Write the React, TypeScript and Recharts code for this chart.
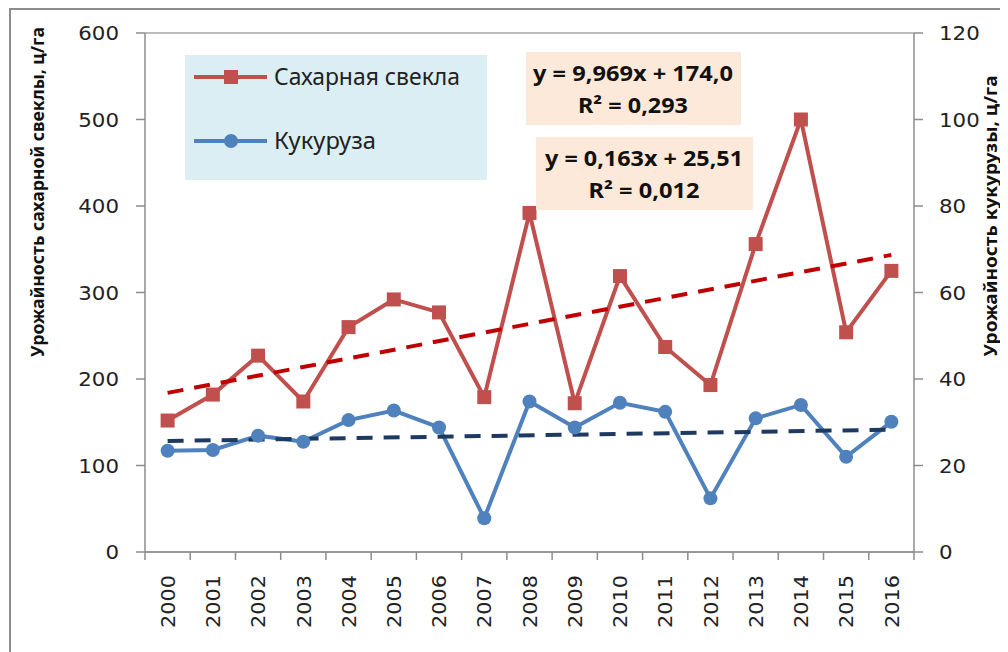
import React from 'react';
import { ComposedChart, Line, XAxis, YAxis, CartesianGrid, Legend } from 'recharts';

const years = ['2000','2001','2002','2003','2004','2005','2006','2007','2008','2009','2010','2011','2012','2013','2014','2015','2016'];
const beet = [152, 182, 227, 174, 260, 292, 277, 179, 392, 172, 319, 237, 193, 356, 500, 254, 325];
const corn = [23.4, 23.6, 26.9, 25.5, 30.5, 32.7, 28.8, 7.8, 34.8, 28.8, 34.5, 32.4, 12.4, 30.9, 34.0, 22.0, 30.1];
const beetTrendEnds = [183.97, 343.47];
const cornTrendEnds = [25.67, 28.28];
const leftTicks = [0, 100, 200, 300, 400, 500, 600];
const rightTicks = [0, 20, 40, 60, 80, 100, 120];
const beetName = 'Сахарная свекла';
const cornName = 'Кукуруза';
const leftTitle = 'Урожайность сахарной свеклы, ц/га';
const rightTitle = 'Урожайность кукурузы, ц/га';
const beetEq = ['y = 9,969x + 174,0', 'R² = 0,293'];
const cornEq = ['y = 0,163x + 25,51', 'R² = 0,012'];

const last = years.length - 1;
const data = years.map((y, i) => ({
  year: y,
  beet: beet[i],
  corn: corn[i],
  beetTrend: i === 0 ? beetTrendEnds[0] : i === last ? beetTrendEnds[1] : null,
  cornTrend: i === 0 ? cornTrendEnds[0] : i === last ? cornTrendEnds[1] : null,
}));

const RED = '#c0504d';
const BLUE = '#4f81bd';
const AXIS = '#8c8c8c';
const TICKFONT = '"DejaVu Sans", Verdana, sans-serif';
const TEXTFONT = '"Noto Sans", "Open Sans", sans-serif';

const W = 1000;
const H = 644;
const PLOT_L = 137;
const PLOT_R = 906;
const BAND = (PLOT_R - PLOT_L) / years.length;

const SquareDot = (props: any) => {
  const { cx, cy, index } = props;
  if (cx == null || cy == null) return <g key={'s' + index} />;
  return <rect key={'s' + index} x={cx - 7} y={cy - 7} width={14} height={14} fill={RED} />;
};
const CircleDot = (props: any) => {
  const { cx, cy, index } = props;
  if (cx == null || cy == null) return <g key={'c' + index} />;
  return <circle key={'c' + index} cx={cx} cy={cy} r={7} fill={BLUE} />;
};

const XTick = (props: any) => {
  const { x, y, payload, index } = props;
  const left = x - BAND / 2;
  return (
    <g>
      <line x1={left} y1={y - 8} x2={left} y2={y} stroke={AXIS} strokeWidth={1.5} />
      {index === last && <line x1={x + BAND / 2} y1={y - 8} x2={x + BAND / 2} y2={y} stroke={AXIS} strokeWidth={1.5} />}
      <text x={x} y={y + 15} transform={`rotate(-90, ${x}, ${y + 15})`} textAnchor="end" dy="0.36em"
        fontFamily={TICKFONT} fontSize={20} fill="#222" textLength={53} lengthAdjust="spacingAndGlyphs">{payload.value}</text>
    </g>
  );
};

const LegendBox = () => (
  <svg width={302} height={125} style={{ display: 'block' }}>
    <rect x={0} y={0} width={302} height={125} fill="#dbeef3" />
    <line x1={9} y1={22} x2={82} y2={22} stroke={RED} strokeWidth={4} />
    <rect x={39} y={15} width={14} height={14} fill={RED} />
    <text x={89} y={22} dy="0.36em" fontFamily={TEXTFONT} fontSize={23} fill="#222" textLength={186} lengthAdjust="spacingAndGlyphs">{beetName}</text>
    <line x1={9} y1={86} x2={82} y2={86} stroke={BLUE} strokeWidth={4} />
    <circle cx={46} cy={86} r={7} fill={BLUE} />
    <text x={89} y={86} dy="0.36em" fontFamily={TEXTFONT} fontSize={23} fill="#222" textLength={102} lengthAdjust="spacingAndGlyphs">{cornName}</text>
  </svg>
);

const YTickLeft = (props: any) => {
  const { x, y, payload } = props;
  return (
    <text x={x} y={y} textAnchor="end" dy="0.36em" fontFamily={TICKFONT} fontSize={20} fill="#222"
      textLength={String(payload.value).length * 13.6} lengthAdjust="spacingAndGlyphs">{payload.value}</text>
  );
};
const YTickRight = (props: any) => {
  const { x, y, payload } = props;
  return (
    <text x={x} y={y} textAnchor="start" dy="0.36em" fontFamily={TICKFONT} fontSize={20} fill="#222"
      textLength={String(payload.value).length * 13.6} lengthAdjust="spacingAndGlyphs">{payload.value}</text>
  );
};

export default function App() {
  return (
    <div style={{ position: 'relative', width: W, height: H, overflow: 'hidden' }}>
      <ComposedChart width={W} height={H} data={data} margin={{ top: 25, right: 0, bottom: 0, left: 0 }}>
        <CartesianGrid vertical={false} stroke="#a6a6a6" strokeWidth={1.5} />
        <XAxis dataKey="year" height={100} axisLine={{ stroke: AXIS, strokeWidth: 1.5 }} tickLine={false}
          tick={<XTick />} interval={0} padding={{ left: BAND / 2, right: BAND / 2 }} />
        <YAxis yAxisId="left" width={137} domain={[0, 600]} ticks={leftTicks} tickSize={9} tickMargin={17}
          axisLine={{ stroke: AXIS, strokeWidth: 1.5 }} tickLine={{ stroke: AXIS, strokeWidth: 1.5 }}
          tick={<YTickLeft />} />
        <YAxis yAxisId="right" orientation="right" width={94} domain={[0, 120]} ticks={rightTicks} tickSize={9} tickMargin={16}
          axisLine={{ stroke: AXIS, strokeWidth: 1.5 }} tickLine={{ stroke: AXIS, strokeWidth: 1.5 }}
          tick={<YTickRight />} />
        <Legend layout="horizontal" verticalAlign="middle" align="center" content={<LegendBox />}
          wrapperStyle={{ position: 'absolute', left: 177, top: 47, width: 302, height: 125 }} />
        <Line yAxisId="left" dataKey="beet" name={beetName} stroke={RED} strokeWidth={4} dot={<SquareDot />} activeDot={false} isAnimationActive={false} />
        <Line yAxisId="right" dataKey="corn" name={cornName} stroke={BLUE} strokeWidth={4} dot={<CircleDot />} activeDot={false} isAnimationActive={false} />
        <Line yAxisId="left" dataKey="beetTrend" stroke="#c00000" strokeWidth={4} strokeDasharray="16 11" dot={false} activeDot={false} connectNulls legendType="none" isAnimationActive={false} />
        <Line yAxisId="right" dataKey="cornTrend" stroke="#1f3a60" strokeWidth={4} strokeDasharray="16 11" dot={false} activeDot={false} connectNulls legendType="none" isAnimationActive={false} />
      </ComposedChart>
      <svg width={W} height={H} style={{ position: 'absolute', left: 0, top: 0, pointerEvents: 'none' }}>
        <line x1={2} y1={0} x2={2} y2={H} stroke="#8c8c8c" strokeWidth={2} />
        <line x1={2} y1={1} x2={W} y2={1} stroke="#8c8c8c" strokeWidth={2} />
        <text x={30} y={184} transform="rotate(-90, 30, 184)" textAnchor="middle" dy="0.36em" fontFamily={TEXTFONT} fontWeight="bold" fontSize={17} fill="#111" textLength={330} lengthAdjust="spacingAndGlyphs">{leftTitle}</text>
        <text x={983} y={208} transform="rotate(-90, 983, 208)" textAnchor="middle" dy="0.36em" fontFamily={TEXTFONT} fontWeight="bold" fontSize={18} fill="#111" textLength={281} lengthAdjust="spacingAndGlyphs">{rightTitle}</text>
        <rect x={518} y={44} width={215} height={73} fill="#fde9d9" />
        <text x={625} y={65} textAnchor="middle" dy="0.36em" fontFamily={TEXTFONT} fontWeight="bold" fontSize={21} fill="#111" textLength={200} lengthAdjust="spacingAndGlyphs">{beetEq[0]}</text>
        <text x={625} y={97} textAnchor="middle" dy="0.36em" fontFamily={TEXTFONT} fontWeight="bold" fontSize={21} fill="#111" textLength={110} lengthAdjust="spacingAndGlyphs">{beetEq[1]}</text>
        <rect x={528} y={129} width={217} height={73} fill="#fde9d9" />
        <text x={636} y={150} textAnchor="middle" dy="0.36em" fontFamily={TEXTFONT} fontWeight="bold" fontSize={21} fill="#111" textLength={198} lengthAdjust="spacingAndGlyphs">{cornEq[0]}</text>
        <text x={636} y={182} textAnchor="middle" dy="0.36em" fontFamily={TEXTFONT} fontWeight="bold" fontSize={21} fill="#111" textLength={111} lengthAdjust="spacingAndGlyphs">{cornEq[1]}</text>
      </svg>
    </div>
  );
}
